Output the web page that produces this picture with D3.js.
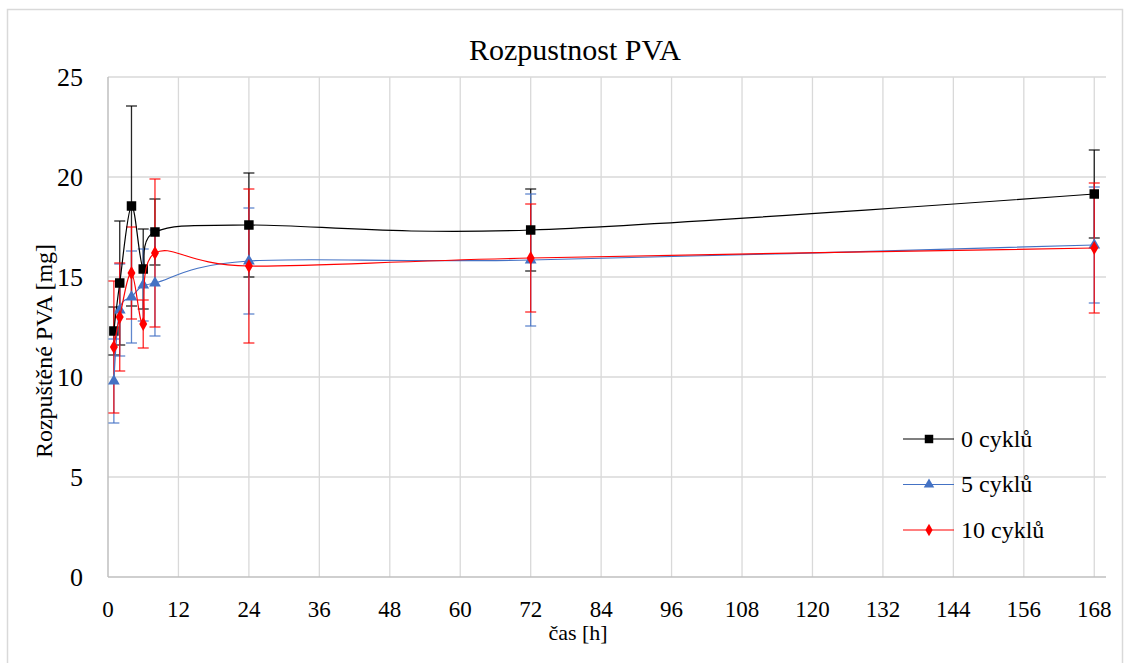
<!DOCTYPE html>
<html>
<head>
<meta charset="utf-8">
<script src="https://cdn.jsdelivr.net/npm/d3@7"></script>
<style>
  body { margin: 0; background: #fff; }
</style>
</head>
<body>
<div id="chart"></div>
<script>
// time points [h]
var times = [1, 2, 4, 6, 8, 24, 72, 168];

// dissolved PVA [mg] and standard deviations
var cykly0 = [12.3, 14.7, 18.55, 15.4, 17.25, 17.6, 17.35, 19.15];
var cykly0Err = [1.2, 3.1, 5.0, 2.0, 1.65, 2.6, 2.05, 2.2];
var cykly5 = [9.8, 13.35, 14.0, 14.6, 14.7, 15.8, 15.85, 16.6];
var cykly5Err = [2.1, 2.3, 2.3, 1.8, 2.65, 2.65, 3.3, 2.9];
var cykly10 = [11.5, 13.0, 15.2, 12.65, 16.2, 15.55, 15.95, 16.45];
var cykly10Err = [3.3, 2.7, 2.3, 1.2, 3.7, 3.85, 2.7, 3.25];

var seriesNames = ["0 cyklů", "5 cyklů", "10 cyklů"];
var xTicks = [0, 12, 24, 36, 48, 60, 72, 84, 96, 108, 120, 132, 144, 156, 168];
var yTicks = [0, 5, 10, 15, 20, 25];

var width = 1131, height = 663;
var margin = { top: 77, right: 1131 - 1106, bottom: 663 - 577, left: 108 };
var serif = "'Liberation Serif', 'DejaVu Serif', serif";

var svg = d3.select("#chart")
    .append("svg")
    .attr("width", width)
    .attr("height", height)
    .attr("font-family", serif);

// chart border
svg.append("rect")
    .attr("x", 7.5).attr("y", 9.5)
    .attr("width", 1115).attr("height", 680)
    .attr("fill", "none")
    .attr("stroke", "#d9d9d9")
    .attr("stroke-width", 1.5);

var x = d3.scaleLinear().domain([0, 170]).range([margin.left, width - margin.right]);
var y = d3.scaleLinear().domain([0, 25]).range([height - margin.bottom, margin.top]);

// grid
svg.append("g").selectAll("line")
    .data(yTicks.filter(function(d) { return d > 0; }))
    .enter().append("line")
    .attr("x1", x(0)).attr("x2", x(170))
    .attr("y1", function(d) { return y(d); })
    .attr("y2", function(d) { return y(d); })
    .attr("stroke", "#d9d9d9").attr("stroke-width", 1.3);

svg.append("g").selectAll("line")
    .data(xTicks.filter(function(d) { return d > 0; }))
    .enter().append("line")
    .attr("x1", function(d) { return x(d); })
    .attr("x2", function(d) { return x(d); })
    .attr("y1", y(0)).attr("y2", y(25))
    .attr("stroke", "#d9d9d9").attr("stroke-width", 1.3);

// axes lines
svg.append("line")
    .attr("x1", x(0)).attr("x2", x(0)).attr("y1", y(0)).attr("y2", y(25))
    .attr("stroke", "#bfbfbf").attr("stroke-width", 1.5);
svg.append("line")
    .attr("x1", x(0)).attr("x2", x(170)).attr("y1", y(0)).attr("y2", y(0))
    .attr("stroke", "#bfbfbf").attr("stroke-width", 1.5);

// tick labels
svg.append("g").selectAll("text")
    .data(yTicks)
    .enter().append("text")
    .attr("x", 83)
    .attr("y", function(d) { return y(d); })
    .attr("dy", "0.35em")
    .attr("text-anchor", "end")
    .attr("font-family", serif)
    .attr("font-size", "26px")
    .text(function(d) { return d; });

svg.append("g").selectAll("text")
    .data(xTicks)
    .enter().append("text")
    .attr("x", function(d) { return x(d); })
    .attr("y", 617)
    .attr("text-anchor", "middle")
    .attr("font-family", serif)
    .attr("font-size", "23px")
    .text(function(d) { return d; });

// titles
svg.append("text")
    .attr("x", 575).attr("y", 60)
    .attr("text-anchor", "middle")
    .attr("font-family", serif)
    .attr("font-size", "30px")
    .text("Rozpustnost PVA");

svg.append("text")
    .attr("x", 578).attr("y", 640)
    .attr("text-anchor", "middle")
    .attr("font-family", serif)
    .attr("font-size", "22px")
    .text("čas [h]");

svg.append("text")
    .attr("transform", "translate(52," + 351 + ") rotate(-90)")
    .attr("text-anchor", "middle")
    .attr("font-family", serif)
    .attr("font-size", "24px")
    .text("Rozpuštěné PVA [mg]");

var series = [
    { name: seriesNames[0], values: cykly0, err: cykly0Err, color: "#000000", symbol: d3.symbolSquare, size: 90 },
    { name: seriesNames[1], values: cykly5, err: cykly5Err, color: "#4472C4", symbol: d3.symbolTriangle, size: 60 },
    { name: seriesNames[2], values: cykly10, err: cykly10Err, color: "#FF0000", symbol: d3.symbolDiamond, size: 55 }
];

// error bars first
series.forEach(function(s) {
    var g = svg.append("g").attr("stroke", s.color).attr("stroke-width", 1.3).attr("stroke-opacity", 0.85);
    times.forEach(function(t, i) {
        var lo = y(s.values[i] - s.err[i]), hi = y(s.values[i] + s.err[i]), cx = x(t);
        g.append("line").attr("x1", cx).attr("x2", cx).attr("y1", lo).attr("y2", hi);
        g.append("line").attr("x1", cx - 5.5).attr("x2", cx + 5.5).attr("y1", lo).attr("y2", lo);
        g.append("line").attr("x1", cx - 5.5).attr("x2", cx + 5.5).attr("y1", hi).attr("y2", hi);
    });
});

var line = d3.line()
    .x(function(d) { return x(d[0]); })
    .y(function(d) { return y(d[1]); })
    .curve(d3.curveCatmullRom.alpha(0));

series.forEach(function(s) {
    var pts = times.map(function(t, i) { return [t, s.values[i]]; });
    svg.append("path")
        .attr("d", line(pts))
        .attr("fill", "none")
        .attr("stroke", s.color)
        .attr("stroke-width", 1.2);
    svg.append("g").selectAll("path")
        .data(pts)
        .enter().append("path")
        .attr("transform", function(d) { return "translate(" + x(d[0]) + "," + y(d[1]) + ")"; })
        .attr("d", d3.symbol().type(s.symbol).size(s.size))
        .attr("fill", s.color);
});

// legend
var legend = svg.append("g");
series.forEach(function(s, i) {
    var ly = 439 + i * 45.5;
    legend.append("line")
        .attr("x1", 903).attr("x2", 954).attr("y1", ly).attr("y2", ly)
        .attr("stroke", s.color).attr("stroke-width", 1.2);
    legend.append("path")
        .attr("transform", "translate(929," + ly + ")")
        .attr("d", d3.symbol().type(s.symbol).size(s.size * 0.8))
        .attr("fill", s.color);
    legend.append("text")
        .attr("x", 961).attr("y", ly)
        .attr("dy", "0.33em")
        .attr("font-family", serif)
        .attr("font-size", "24px")
        .text(s.name);
});
</script>
</body>
</html>
